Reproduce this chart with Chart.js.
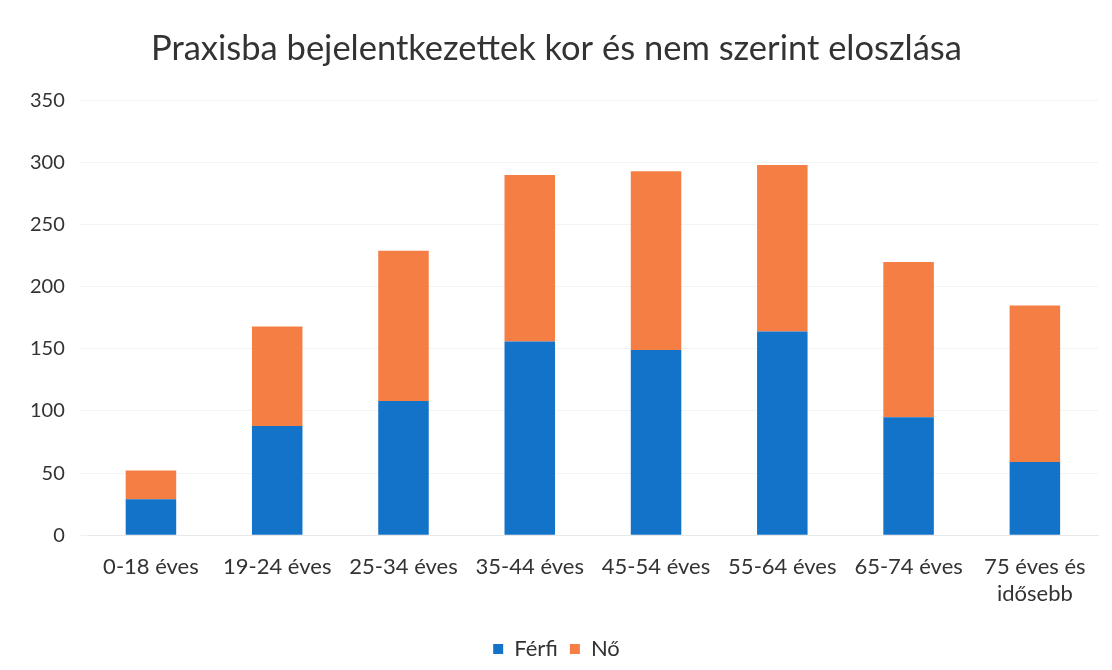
<!DOCTYPE html>
<html><head><meta charset="utf-8">
<script src="https://cdn.jsdelivr.net/npm/chart.js@4"></script>
<style>html,body{margin:0;padding:0;background:#fff}#w{width:1112px;height:670px}</style>
</head><body><div id="w"><canvas id="c"></canvas></div>
<script>
const categories = ['0-18 éves','19-24 éves','25-34 éves','35-44 éves','45-54 éves','55-64 éves','65-74 éves',['75 éves és','idősebb']];
const ferfi = [29, 88, 108, 156, 149, 164, 95, 59];
const no = [23, 80, 121, 134, 144, 134, 125, 126];
const yTicks = [0, 50, 100, 150, 200, 250, 300, 350];
const FONT = 'Lato, "Open Sans", sans-serif';
new Chart(document.getElementById('c'), {
  type: 'bar',
  data: {
    labels: categories,
    datasets: [
      {label: 'Férfi', data: ferfi, backgroundColor: '#1373c9'},
      {label: 'Nő', data: no, backgroundColor: '#f57e45'}
    ]
  },
  options: {
    responsive: true, maintainAspectRatio: false, animation: false,
    layout: {padding: {left: 15, right: 14, top: 12, bottom: 0}},
    datasets: {bar: {categoryPercentage: 1, barPercentage: 0.4}},
    plugins: {
      title: {display: true, text: 'Praxisba bejelentkezettek kor és nem szerint eloszlása',
        color: '#333', font: {family: FONT, size: 34.5, weight: 'normal'}, padding: {top: 16, bottom: 31}},
      legend: {position: 'bottom', labels: {boxWidth: 10, boxHeight: 10, color: '#333', padding: 12,
        font: {family: FONT, size: 22}}},
      tooltip: {enabled: false}
    },
    scales: {
      x: {stacked: true, grid: {display: false}, border: {color: '#e8e8e8'},
        afterFit: ax => { ax.height += 8; },
        ticks: {color: '#333', font: {family: FONT, size: 22}, maxRotation: 0, padding: 11}},
      y: {stacked: true, min: 0, max: 350, afterBuildTicks: ax => { ax.ticks = yTicks.map(v => ({value: v})); },
        grid: {color: '#f3f3f3'}, border: {display: false},
        ticks: {color: '#333', font: {family: FONT, size: 20}, padding: 15}}
    }
  }
});
</script></body></html>
